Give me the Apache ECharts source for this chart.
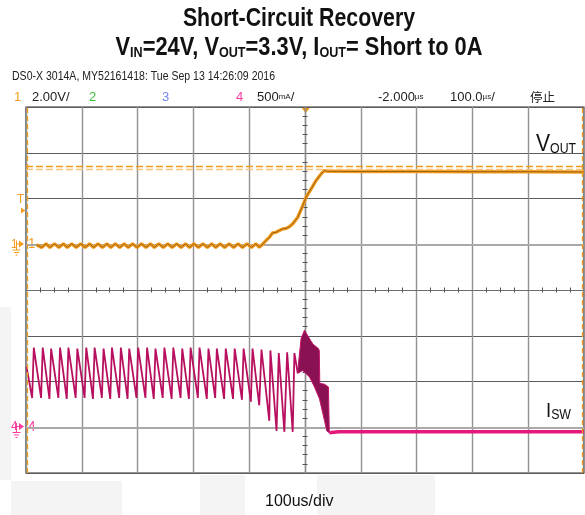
<!DOCTYPE html>
<html>
<head>
<meta charset="utf-8">
<title>Short-Circuit Recovery</title>
<script src="https://cdn.jsdelivr.net/npm/echarts@6/dist/echarts.min.js"></script>
<style>
  html, body { margin: 0; padding: 0; background: #fff; }
  #chart { width: 585px; height: 515px; }
</style>
</head>
<body>
<div id="chart"></div>
<script>
'use strict';

// scope capture, 100us/div. time in us (0 = screen centre)
// ch1 Vout in V (2V/div), ch4 Isw in A (500mA/div)

var voutIdle = [
  [-481, -0.02], [-472, -0.14], [-464, 0.02], [-457, -0.14], [-449, 0.02], [-441, -0.14],
  [-433, 0.02], [-426, -0.14], [-418, 0.02], [-410, -0.14], [-402, 0.02], [-394, -0.14],
  [-386, 0.02], [-379, -0.14], [-371, 0.02], [-363, -0.14], [-355, 0.02], [-348, -0.14],
  [-340, 0.02], [-332, -0.14], [-324, 0.02], [-317, -0.14], [-309, 0.02], [-301, -0.14],
  [-293, 0.02], [-285, -0.14], [-277, 0.02], [-270, -0.14], [-262, 0.02], [-254, -0.14],
  [-246, 0.02], [-238, -0.14], [-230, 0.02], [-222, -0.14], [-214, 0.02], [-207, -0.14],
  [-199, 0.02], [-191, -0.14], [-183, 0.02], [-175, -0.14], [-167, 0.02], [-160, -0.14],
  [-152, 0.02], [-144, -0.14], [-136, 0.02], [-128, -0.14], [-120, 0.02], [-112, -0.14],
  [-104, 0.02], [-96, -0.14], [-88, 0.02], [-82, -0.13]
];
var voutRise = [
  [-78, -0.05], [-70, 0.16], [-64, 0.30], [-58, 0.50], [-52, 0.52], [-46, 0.60],
  [-40, 0.67], [-34, 0.69], [-28, 0.77], [-22, 0.89], [-13, 1.18], [-4, 1.69],
  [2, 2.06], [11, 2.42], [20, 2.79], [29, 3.08], [35, 3.22]
];
var voutSteady = [
  [40, 3.19], [43, 3.27], [46, 3.19], [100, 3.18], [200, 3.18], [300, 3.17], [400, 3.17], [500, 3.16]
];

var iswHiccup = [
  [-499, 0.66], [-489, 0.32], [-486, 0.87], [-473, 0.32], [-470, 0.87], [-458, 0.31], [-455, 0.86],
  [-442, 0.32], [-439, 0.87], [-427, 0.31], [-424, 0.87], [-411, 0.32], [-408, 0.86],
  [-395, 0.32], [-392, 0.87], [-380, 0.31], [-377, 0.87], [-364, 0.32], [-361, 0.86],
  [-349, 0.31], [-346, 0.87], [-333, 0.32], [-330, 0.87], [-318, 0.31], [-315, 0.86],
  [-302, 0.32], [-299, 0.87], [-286, 0.32], [-283, 0.87], [-271, 0.31], [-268, 0.86],
  [-255, 0.32], [-252, 0.87], [-239, 0.31], [-236, 0.87], [-223, 0.32], [-220, 0.86],
  [-208, 0.31], [-205, 0.87], [-192, 0.32], [-189, 0.87], [-176, 0.31], [-173, 0.86],
  [-161, 0.32], [-158, 0.86], [-145, 0.31], [-142, 0.86], [-129, 0.31], [-126, 0.86],
  [-113, 0.30], [-110, 0.86], [-97, 0.28], [-94, 0.86], [-82, 0.24], [-78, 0.85],
  [-64, 0.07], [-62, 0.84], [-51, -0.04], [-49, -0.06], [-47, 0.81],
  [-37, -0.05], [-34, -0.05], [-32, 0.82], [-22, -0.05], [-20, -0.05], [-19, 0.81],
  [-13, 0.59]
];
// dense switching burst during recovery: upper and lower envelope
var iswBurstTop = [
  [-13, 0.62], [-7, 0.97], [-1, 1.06], [5, 1.00], [14, 0.91], [24, 0.86],
  [25.6, 0.84], [26.5, 0.48], [35, 0.47], [42, 0.44], [43.5, -0.04]
];
var iswBurstBottom = [
  [-13, 0.59], [-4, 0.62], [8, 0.55], [17, 0.44], [26, 0.31], [35, 0.07], [39, -0.04], [43.5, -0.06]
];
var iswTail = [
  [43.5, -0.06], [60, -0.05], [120, -0.05], [200, -0.05], [300, -0.05], [400, -0.05], [500, -0.05]
];

var voutCursors = [3.40, 3.29];
var timeCursors = [-498.5, 496];

// no Arial Narrow here: Liberation Sans squeezed horizontally stands in for it
var FN = "'Liberation Sans',Arial,sans-serif";
var NARROW = 0.82;
var ORANGE = '#f39c1f';
var PINK = '#ff3ea0';

function txt(x, y, s, size, color, align, opts) {
  opts = opts || {};
  return {
    type: 'text', x: x, y: y, silent: true, scaleX: opts.scaleX || 1,
    style: { text: s, font: (opts.weight || '') + ' ' + size + 'px ' + (opts.family || FN),
      fill: color || '#222', align: align || 'left', verticalAlign: 'middle', rich: opts.rich }
  };
}

// channel ground marker on the left edge ("1 -> 1", with ground symbol)
function groundMark(y, color, num) {
  var ls = { stroke: color, lineWidth: 1 };
  return [
    txt(11, y, num, 13, color, 'left', { scaleX: 0.9 }),
    { type: 'line', silent: true, shape: { x1: 16.5, y1: y - 3.5, x2: 16.5, y2: y + 6 }, style: ls },
    { type: 'line', silent: true, shape: { x1: 16.5, y1: y, x2: 19, y2: y }, style: ls },
    { type: 'polygon', silent: true, shape: { points: [[19, y - 3.5], [24, y], [19, y + 3.5]] }, style: { fill: color } },
    { type: 'line', silent: true, shape: { x1: 12.5, y1: y + 6, x2: 20.5, y2: y + 6 }, style: ls },
    { type: 'line', silent: true, shape: { x1: 14, y1: y + 8.5, x2: 19, y2: y + 8.5 }, style: ls },
    { type: 'line', silent: true, shape: { x1: 15.5, y1: y + 11, x2: 17.5, y2: y + 11 }, style: ls },
    txt(28, y, num, 15, color, 'left', { scaleX: 0.9 })
  ];
}

var unitRich = {
  n: { fontFamily: FN, fontSize: 13, fill: '#222' },
  u: { fontFamily: FN, fontSize: 8, fill: '#222' }
};

var graphics = [
  // faint background patches of the original capture
  { type: 'rect', silent: true, z: -10, shape: { x: 0, y: 307, width: 11, height: 173 }, style: { fill: '#f4f4f4' } },
  { type: 'rect', silent: true, z: -10, shape: { x: 11, y: 481, width: 111, height: 34 }, style: { fill: '#f4f4f4' } },
  { type: 'rect', silent: true, z: -10, shape: { x: 200, y: 475, width: 45, height: 40 }, style: { fill: '#f4f4f4' } },
  { type: 'rect', silent: true, z: -10, shape: { x: 317, y: 475, width: 118, height: 40 }, style: { fill: '#f4f4f4' } },

  txt(299, 19, 'Short-Circuit Recovery', 26, '#111', 'center', { weight: 'bold', scaleX: NARROW }),
  txt(299, 47, '{m|V}{s|IN}{m|=24V, V}{s|OUT}{m|=3.3V, I}{s|OUT}{m|= Short to 0A}', 26, '#111', 'center', {
    scaleX: NARROW + 0.02,
    rich: {
      m: { fontFamily: FN, fontWeight: 'bold', fontSize: 26, fill: '#111', lineHeight: 27, verticalAlign: 'bottom' },
      s: { fontFamily: FN, fontWeight: 'bold', fontSize: 15, fill: '#111', lineHeight: 19, verticalAlign: 'bottom' }
    }
  }),

  txt(12, 76, 'DS0-X 3014A, MY52161418: Tue Sep 13 14:26:09 2016', 13, '#222', 'left', { scaleX: 0.81 }),
  txt(14, 97, '1', 13, ORANGE),
  txt(32, 97, '2.00V/', 13, '#222'),
  txt(89, 97, '2', 13, '#3fbf3f'),
  txt(162, 97, '3', 13, '#6f86ee'),
  txt(236, 97, '4', 13, PINK),
  txt(257, 97, '{n|500}{u|mA}{n|/}', 13, '#222', 'left', { rich: unitRich }),
  txt(378, 97, '{n|-2.000}{u|\u00b5s}', 13, '#222', 'left', { rich: unitRich }),
  txt(450, 97, '{n|100.0}{u|\u00b5s}{n|/}', 13, '#222', 'left', { rich: unitRich }),
  txt(530, 97, '停止', 12.5, '#222', 'left', { family: "'Noto Sans CJK SC',sans-serif" }),

  // trigger markers
  { type: 'polygon', silent: true, shape: { points: [[301, 107], [310.5, 107], [305.7, 113]] }, style: { fill: '#f39a12' } },
  txt(20.5, 199, 'T', 13, ORANGE, 'center', { scaleX: 0.9 }),
  { type: 'polygon', silent: true, shape: { points: [[21, 207.5], [25.5, 210.5], [21, 213.5]] }, style: { fill: ORANGE } },

  txt(536, 144, '{a|V}{b|OUT}', 23, '#111', 'left', {
    scaleX: 0.88,
    rich: {
      a: { fontFamily: FN, fontSize: 24, fill: '#111', lineHeight: 25, verticalAlign: 'bottom' },
      b: { fontFamily: FN, fontSize: 14, fill: '#111', lineHeight: 18, verticalAlign: 'bottom' }
    }
  }),
  txt(546, 411, '{a|I}{b|SW}', 21, '#111', 'left', {
    scaleX: 0.88,
    rich: {
      a: { fontFamily: FN, fontSize: 21, fill: '#111', lineHeight: 22, verticalAlign: 'bottom' },
      b: { fontFamily: FN, fontSize: 14, fill: '#111', lineHeight: 16, verticalAlign: 'bottom' }
    }
  }),
  txt(265, 502, '100us/div', 16, '#111')
].concat(groundMark(244, ORANGE, '1'), groundMark(426.5, PINK, '4'));

function centreAxis(base, inside) {
  return Object.assign({
    type: 'value',
    axisLine: { show: true, lineStyle: { color: '#6e6e6e', width: 1 } },
    axisTick: { show: false, inside: inside },
    axisLabel: { show: false },
    splitLine: { show: false }
  }, base);
}

var chart = echarts.init(document.getElementById('chart'), null, { renderer: 'canvas' });

chart.setOption({
  animation: false,
  backgroundColor: '#fff',
  grid: { left: 26, top: 107, width: 558, height: 366, show: true, borderColor: '#2b2b2b', borderWidth: 1.2 },
  xAxis: [
    {
      type: 'value', min: -500, max: 500, interval: 100,
      axisLine: { show: false }, axisTick: { show: false }, axisLabel: { show: false },
      splitLine: { show: true, lineStyle: { color: '#919191', width: 1.4 } }
    },
    centreAxis({ min: -500, max: 500, interval: 100, position: 'bottom', offset: -183,
      minorTick: { show: true, splitNumber: 4, length: 2.5, lineStyle: { color: '#555' } } }, false),
    centreAxis({ min: -500, max: 500, interval: 100, position: 'bottom', offset: -183,
      minorTick: { show: true, splitNumber: 4, length: 2.5, lineStyle: { color: '#555' } } }, true)
  ],
  yAxis: [
    {
      type: 'value', min: -10, max: 6, interval: 2, position: 'left',
      axisLine: { show: false }, axisTick: { show: false }, axisLabel: { show: false },
      splitLine: { show: true, lineStyle: { color: '#5c5c5c', width: 1 } }
    },
    { type: 'value', min: -0.5, max: 3.5, interval: 0.5, position: 'right', show: false },
    centreAxis({ min: -10, max: 6, interval: 2, position: 'left', offset: -279,
      axisLine: { show: true, lineStyle: { color: '#8c8c8c', width: 1.2 } },
      minorTick: { show: true, splitNumber: 5, length: 2.5, lineStyle: { color: '#555' } } }, false),
    centreAxis({ min: -10, max: 6, interval: 2, position: 'left', offset: -279,
      axisLine: { show: true, lineStyle: { color: '#8c8c8c', width: 1.2 } },
      minorTick: { show: true, splitNumber: 5, length: 2.5, lineStyle: { color: '#555' } } }, true)
  ],
  series: [
    // channel ground levels
    {
      type: 'line', xAxisIndex: 0, yAxisIndex: 0, data: [], silent: true,
      markLine: { z: 1, silent: true, symbol: 'none', label: { show: false },
        lineStyle: { color: '#a9a9a9', width: 2, type: 'solid' }, data: [{ yAxis: 0 }] }
    },
    {
      type: 'line', xAxisIndex: 0, yAxisIndex: 1, data: [], silent: true,
      markLine: { z: 1, silent: true, symbol: 'none', label: { show: false },
        lineStyle: { color: '#a9a9a9', width: 2, type: 'solid' }, data: [{ yAxis: 0 }] }
    },
    {
      name: 'Isw', type: 'line', xAxisIndex: 0, yAxisIndex: 1, data: iswHiccup,
      showSymbol: false, silent: true, z: 3,
      lineStyle: { color: '#b8105f', width: 1.8 }
    },
    {
      name: 'Isw burst', type: 'custom', xAxisIndex: 0, yAxisIndex: 1, data: [[0, 0]], silent: true, z: 3,
      renderItem: function (params, api) {
        var pts = iswBurstTop.map(function (p) { return api.coord(p); })
          .concat(iswBurstBottom.slice().reverse().map(function (p) { return api.coord(p); }));
        return { type: 'polygon', shape: { points: pts },
          style: { fill: '#8a1152', stroke: '#c4156c', lineWidth: 1 } };
      }
    },
    {
      name: 'Isw tail', type: 'line', xAxisIndex: 0, yAxisIndex: 1, data: iswTail,
      showSymbol: false, silent: true, z: 3,
      lineStyle: { color: '#e3187b', width: 3.5 }
    },
    {
      name: 'Vout', type: 'line', xAxisIndex: 0, yAxisIndex: 0,
      data: voutIdle.concat(voutRise, voutSteady),
      showSymbol: false, silent: true, z: 4,
      lineStyle: { color: ORANGE, width: 3.4 }
    },
    {
      name: 'Vout core', type: 'line', xAxisIndex: 0, yAxisIndex: 0,
      data: voutIdle.concat(voutRise, voutSteady),
      showSymbol: false, silent: true, z: 4,
      lineStyle: { color: 'rgba(45,25,0,0.45)', width: 1 }
    },
    // cursors
    {
      type: 'line', xAxisIndex: 0, yAxisIndex: 0, data: [], silent: true,
      markLine: {
        silent: true, symbol: 'none', label: { show: false },
        data: [
          { yAxis: voutCursors[0], lineStyle: { color: '#f29a1a', width: 1.3, type: [7, 3] } },
          { yAxis: voutCursors[1], lineStyle: { color: '#f8c27a', width: 1.3, type: [7, 3] } },
          { xAxis: timeCursors[0], lineStyle: { color: '#f29a1a', width: 1.3, type: [5, 3] } },
          { xAxis: timeCursors[1], lineStyle: { color: '#f29a1a', width: 1.3, type: [5, 3] } }
        ]
      }
    }
  ],
  graphic: graphics
});
</script>
</body>
</html>
